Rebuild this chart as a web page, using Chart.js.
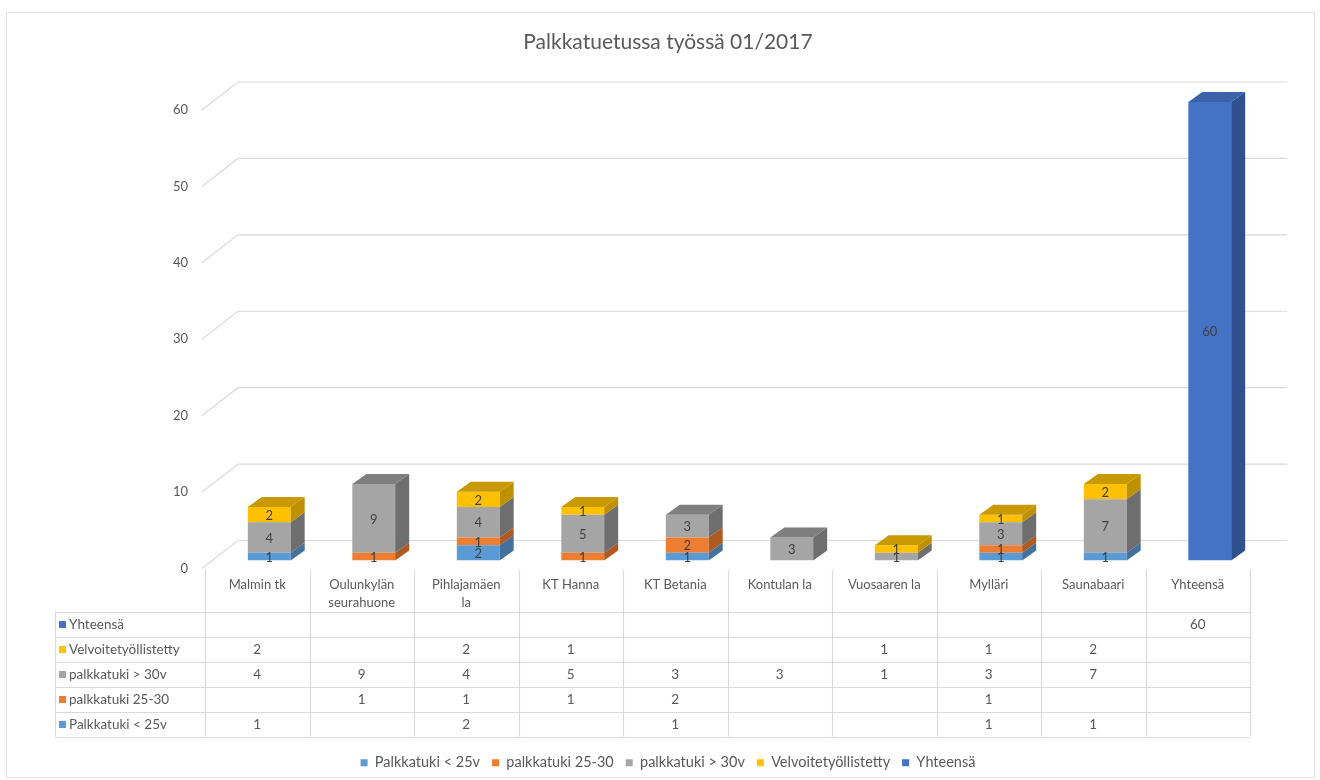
<!DOCTYPE html>
<html>
<head>
<meta charset="utf-8">
<title>Palkkatuetussa työssä 01/2017</title>
<script src="https://cdn.jsdelivr.net/npm/chart.js@4.4.1/dist/chart.umd.min.js"></script>
<style>
  body { margin: 0; background: #fff; }
  #wrap { width: 1320px; height: 780px; position: relative; }
</style>
</head>
<body>
<div id="wrap"><canvas id="chart" width="1320" height="780"></canvas></div>
<script>
// data
const categories = ["Malmin tk", ["Oulunkylän", "seurahuone"], ["Pihlajamäen", "la"], "KT Hanna", "KT Betania",
  "Kontulan la", "Vuosaaren la", "Mylläri", "Saunabaari", "Yhteensä"];
const under25 = [1, null, 2, null, 1, null, null, 1, 1, null];
const age25to30 = [null, 1, 1, 1, 2, null, null, 1, null, null];
const over30 = [4, 9, 4, 5, 3, 3, 1, 3, 7, null];
const obligated = [2, null, 2, 1, null, null, 1, 1, 2, null];
const total = [null, null, null, null, null, null, null, null, null, 60];
const yTicks = [0, 10, 20, 30, 40, 50, 60];

const FONT = "Lato";
const TEXT = "#595959";
const LINE = "#d9d9d9";
const DX = 14, DY = -10;      // bar depth
const BACK_DX = 36, BACK_DY = -28; // wall depth
const SHIFT = 12;             // bars sit a bit right of table columns

const faces = [
  { side: "#41719c", top: "#4f86bd" },
  { side: "#ae5a21", top: "#c5661f" },
  { side: "#6e6e6e", top: "#7f7f7f" },
  { side: "#bf9000", top: "#c99a00" },
  { side: "#2f528f", top: "#3a62a8" }
];

const hiddenAxis = w => ({
  display: true,
  ticks: { display: false },
  grid: { display: false },
  border: { display: false },
  afterFit: s => { s.width = w; }
});

const depthPlugin = {
  id: "depth",
  beforeDatasetsDraw(chart) {
    const ctx = chart.ctx;
    const y = chart.scales.y;
    const left = chart.chartArea.left - SHIFT - 3;
    const right = chart.chartArea.right + SHIFT + 13;
    ctx.save();
    ctx.strokeStyle = LINE;
    ctx.lineWidth = 1.2;
    ctx.font = "13px " + FONT;
    ctx.fillStyle = TEXT;
    ctx.textAlign = "right";
    ctx.textBaseline = "middle";
    yTicks.forEach(v => {
      const py = y.getPixelForValue(v);
      ctx.beginPath();
      ctx.moveTo(left, py + 8);
      ctx.lineTo(left + BACK_DX, py + 8 + BACK_DY);
      ctx.lineTo(right, py + 8 + BACK_DY);
      ctx.stroke();
      ctx.fillText(String(v), 188, py + 8);
    });
    ctx.restore();
  },
  afterDatasetsDraw(chart) {
    const ctx = chart.ctx;
    const n = categories.length;
    const topSet = [];
    for (let i = 0; i < n; i++) {
      topSet[i] = -1;
      chart.data.datasets.forEach((ds, d) => { if (ds.data[i] != null) topSet[i] = d; });
    }
    ctx.save();
    chart.data.datasets.forEach((ds, d) => {
      const meta = chart.getDatasetMeta(d);
      meta.data.forEach((bar, i) => {
        if (ds.data[i] == null) return;
        const p = bar.getProps(["x", "y", "base", "width"], true);
        const x1 = p.x - p.width / 2, x2 = p.x + p.width / 2;
        const yt = Math.min(p.y, p.base), yb = Math.max(p.y, p.base);
        ctx.fillStyle = faces[d].side;
        ctx.beginPath();
        ctx.moveTo(x2, yt); ctx.lineTo(x2 + DX, yt + DY);
        ctx.lineTo(x2 + DX, yb + DY); ctx.lineTo(x2, yb);
        ctx.closePath(); ctx.fill();
        if (topSet[i] === d) {
          ctx.fillStyle = faces[d].top;
          ctx.beginPath();
          ctx.moveTo(x1, yt); ctx.lineTo(x2, yt);
          ctx.lineTo(x2 + DX, yt + DY); ctx.lineTo(x1 + DX, yt + DY);
          ctx.closePath(); ctx.fill();
        }
        ctx.fillStyle = "#404040";
        ctx.font = "13px " + FONT;
        ctx.textAlign = "center";
        ctx.textBaseline = "middle";
        ctx.fillText(String(ds.data[i]), p.x, (yt + yb) / 2 + 1);
      });
    });
    ctx.restore();
  },
  afterDraw(chart) {
    const ctx = chart.ctx;
    const xs = chart.scales.x;
    const colW = xs.getPixelForValue(1) - xs.getPixelForValue(0);
    const colLeft = i => xs.getPixelForValue(i) - colW / 2 - SHIFT;
    const n = categories.length;
    const headTop = chart.chartArea.bottom + 9;
    const rowTop = headTop + 42, rowH = 25;
    const tableLeft = 55;
    const rows = chart.data.datasets.slice().reverse();
    ctx.save();
    ctx.strokeStyle = LINE;
    ctx.lineWidth = 1.2;
    for (let i = 0; i <= n; i++) {
      const x = Math.round(colLeft(i)) + 0.5;
      ctx.beginPath(); ctx.moveTo(x, headTop); ctx.lineTo(x, rowTop + rowH * rows.length); ctx.stroke();
    }
    ctx.beginPath(); ctx.moveTo(tableLeft + 0.5, rowTop); ctx.lineTo(tableLeft + 0.5, rowTop + rowH * rows.length); ctx.stroke();
    for (let r = 0; r <= rows.length; r++) {
      const y = Math.round(rowTop + r * rowH) + 0.5;
      ctx.beginPath(); ctx.moveTo(tableLeft, y); ctx.lineTo(colLeft(n), y); ctx.stroke();
    }
    ctx.font = "13px " + FONT;
    ctx.fillStyle = TEXT;
    ctx.textAlign = "center";
    ctx.textBaseline = "middle";
    categories.forEach((c, i) => {
      const cx = colLeft(i) + colW / 2;
      const lines = Array.isArray(c) ? c : [c];
      lines.forEach((t, k) => ctx.fillText(t, cx, headTop + 15 + k * 18));
    });
    ctx.font = "13.5px " + FONT;
    rows.forEach((ds, r) => {
      const cy = rowTop + r * rowH + rowH / 2 + 1;
      ctx.fillStyle = ds.backgroundColor;
      ctx.fillRect(tableLeft + 4, cy - 4, 7, 7);
      ctx.fillStyle = TEXT;
      ctx.textAlign = "left";
      ctx.fillText(ds.label, tableLeft + 14, cy);
      ctx.textAlign = "center";
      ds.data.forEach((v, i) => {
        if (v != null) ctx.fillText(String(v), colLeft(i) + colW / 2, cy);
      });
    });
    ctx.strokeStyle = "#e3e3e3";
    ctx.lineWidth = 1;
    ctx.strokeRect(6.5, 12.5, 1308, 765);
    ctx.restore();
  }
};

new Chart(document.getElementById("chart"), {
  type: "bar",
  data: {
    labels: categories,
    datasets: [
      { label: "Palkkatuki < 25v", data: under25, backgroundColor: "#5b9bd5" },
      { label: "palkkatuki 25-30", data: age25to30, backgroundColor: "#ed7d31" },
      { label: "palkkatuki > 30v", data: over30, backgroundColor: "#a5a5a5" },
      { label: "Velvoitetyöllistetty", data: obligated, backgroundColor: "#ffc000" },
      { label: "Yhteensä", data: total, backgroundColor: "#4472c4" }
    ]
  },
  options: {
    responsive: false,
    animation: false,
    events: [],
    layout: { padding: { left: 16, right: 0, top: 0, bottom: 0 } },
    datasets: { bar: { barPercentage: 0.41, categoryPercentage: 1, borderWidth: 0 } },
    scales: {
      x: {
        stacked: true,
        ticks: { display: false },
        grid: { display: false },
        border: { display: false },
        afterFit: s => { s.height = 183; }
      },
      y: Object.assign(hiddenAxis(201), { stacked: true, min: 0, max: 60, position: "left" }),
      y2: Object.assign(hiddenAxis(58), { position: "right" })
    },
    plugins: {
      title: {
        display: true,
        text: "Palkkatuetussa työssä 01/2017",
        color: TEXT,
        font: { family: FONT, size: 21, weight: "normal" },
        padding: { top: 30, bottom: 46.8 }
      },
      legend: {
        position: "bottom",
        labels: {
          color: TEXT,
          font: { family: FONT, size: 14.5 },
          boxWidth: 7, boxHeight: 7,
          padding: 12
        }
      },
      tooltip: { enabled: false }
    }
  },
  plugins: [depthPlugin]
});
</script>
</body>
</html>
